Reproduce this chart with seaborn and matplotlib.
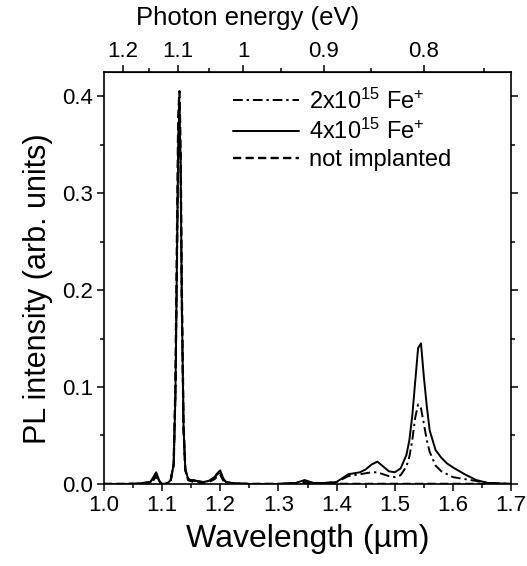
import numpy as np
import pandas as pd
import matplotlib
matplotlib.use("Agg")
import matplotlib.pyplot as plt
import seaborn as sns

# wavelength grid (um)
wavelength = [1.00, 1.02, 1.04, 1.06, 1.08, 1.085, 1.09, 1.095, 1.10, 1.105,
              1.11, 1.115, 1.12, 1.123, 1.126, 1.128, 1.130, 1.132, 1.134, 1.137,
              1.14, 1.145, 1.15, 1.155, 1.16, 1.17, 1.18, 1.19, 1.195, 1.20,
              1.205, 1.21, 1.22, 1.25, 1.30, 1.33, 1.345, 1.36, 1.38, 1.40,
              1.41, 1.42, 1.43, 1.44, 1.45, 1.46, 1.47, 1.48, 1.49, 1.50,
              1.51, 1.52, 1.525, 1.53, 1.535, 1.54, 1.545, 1.55, 1.555, 1.56,
              1.57, 1.58, 1.59, 1.60, 1.62, 1.64, 1.66, 1.70]

# 4x10^15 Fe+ (solid)
pl_4e15 = [0.0, 0.0, 0.0, 0.0005, 0.002, 0.007, 0.012, 0.004, -0.001, 0.0,
           0.001, 0.004, 0.02, 0.09, 0.25, 0.36, 0.39, 0.33, 0.19, 0.06,
           0.015, 0.005, 0.004, 0.004, 0.003, 0.002, 0.003, 0.007, 0.011, 0.014,
           0.006, 0.002, 0.001, 0.0, 0.0, 0.001, 0.004, 0.001, 0.001, 0.002,
           0.006, 0.010, 0.011, 0.012, 0.015, 0.020, 0.023, 0.018, 0.013, 0.012,
           0.016, 0.030, 0.045, 0.070, 0.105, 0.140, 0.145, 0.110, 0.080, 0.055,
           0.035, 0.027, 0.021, 0.017, 0.010, 0.004, 0.001, 0.0]

# 2x10^15 Fe+ (dash-dot)
pl_2e15 = [0.0, 0.0, 0.0, 0.0005, 0.002, 0.006, 0.010, 0.003, -0.001, 0.0,
           0.001, 0.004, 0.02, 0.09, 0.24, 0.35, 0.38, 0.32, 0.18, 0.055,
           0.014, 0.005, 0.004, 0.003, 0.003, 0.002, 0.003, 0.006, 0.010, 0.012,
           0.005, 0.002, 0.001, 0.0, 0.0, 0.001, 0.003, 0.001, 0.001, 0.002,
           0.005, 0.008, 0.009, 0.010, 0.011, 0.012, 0.012, 0.010, 0.008, 0.007,
           0.009, 0.018, 0.028, 0.045, 0.068, 0.082, 0.078, 0.062, 0.045, 0.033,
           0.019, 0.013, 0.010, 0.007, 0.005, 0.003, 0.001, 0.0]

# not implanted (dashed)
pl_ref = [0.0, 0.0, 0.0, 0.0, 0.001, 0.004, 0.008, 0.002, 0.0, 0.0,
          0.001, 0.004, 0.02, 0.10, 0.27, 0.38, 0.405, 0.34, 0.20, 0.06,
          0.015, 0.004, 0.003, 0.002, 0.002, 0.001, 0.002, 0.005, 0.008, 0.010,
          0.004, 0.001, 0.0, 0.0, 0.0, 0.0, 0.001, 0.0, 0.0, 0.0,
          0.0, 0.0, 0.0, 0.0, 0.0, 0.0, 0.0, 0.0, 0.0, 0.0,
          0.0, 0.0, 0.0, 0.0, 0.0, 0.0, 0.0, 0.0, 0.0, 0.0,
          0.0, 0.0, 0.0, 0.0, 0.0, 0.0, 0.0, 0.0]

energy_ticks = [1.2, 1.1, 1.0, 0.9, 0.8]
energy_labels = ["1.2", "1.1", "1", "0.9", "0.8"]
energy_minor = [1.15, 1.05, 0.95, 0.85, 0.75]

df = pd.DataFrame({"wl": wavelength, "s4": pl_4e15, "s2": pl_2e15, "ref": pl_ref})

sns.set_style("ticks")
plt.rcParams["font.family"] = ["Liberation Sans", "DejaVu Sans"]
plt.rcParams["mathtext.fontset"] = "custom"
plt.rcParams["mathtext.rm"] = "Liberation Sans"
plt.rcParams["mathtext.it"] = "Liberation Sans:italic"
for key in ["text.color", "axes.labelcolor", "xtick.color", "ytick.color", "axes.edgecolor"]:
    plt.rcParams[key] = "black"

fig = plt.figure(figsize=(5.27, 5.66), dpi=100)
ax = fig.add_axes([0.197, 0.145, 0.773, 0.728])

sns.lineplot(data=df, x="wl", y="s4", ax=ax, color="black", lw=1.4,
             linestyle="-", label=r"4x10$^{15}$ Fe$^{+}$")
sns.lineplot(data=df, x="wl", y="s2", ax=ax, color="black", lw=1.4,
             linestyle=(0, (5, 2, 1.2, 2)), label=r"2x10$^{15}$ Fe$^{+}$")
sns.lineplot(data=df, x="wl", y="ref", ax=ax, color="black", lw=1.7,
             linestyle=(0, (3.5, 1.8)), label="not implanted")

ax.set_xlim(1.0, 1.7)
ax.set_ylim(0.0, 0.425)
ax.set_xticks(np.round(np.arange(1.0, 1.71, 0.1), 2))
ax.set_xticks(np.round(np.arange(1.05, 1.7, 0.1), 2), minor=True)
ax.set_yticks([0.0, 0.1, 0.2, 0.3, 0.4])
ax.set_yticks([0.05, 0.15, 0.25, 0.35], minor=True)
ax.set_xticklabels([f"{v:.1f}" for v in np.arange(1.0, 1.71, 0.1)])
ax.set_yticklabels(["0.0", "0.1", "0.2", "0.3", "0.4"])
ax.tick_params(which="both", direction="out", right=True, top=False,
               labelsize=16, width=1.1, pad=3)
ax.tick_params(which="major", length=5)
ax.tick_params(which="minor", length=3)
for sp in ax.spines.values():
    sp.set_visible(True)
    sp.set_linewidth(1.2)

ax.set_xlabel("Wavelength (\u00b5m)", fontsize=23, labelpad=6)
ax.set_ylabel("PL intensity (arb. units)", fontsize=22)
ax.yaxis.set_label_coords(-0.125, 0.475)


def to_energy(x):
    x = np.asarray(x, dtype=float)
    with np.errstate(divide="ignore"):
        return 1.2398 / x


top = ax.secondary_xaxis("top", functions=(to_energy, to_energy))
top.set_xticks(energy_ticks)
top.set_xticklabels(energy_labels)
top.set_xticks(energy_minor, minor=True)
top.tick_params(which="both", direction="out", labelsize=16, width=1.1, pad=2)
top.tick_params(which="major", length=5)
top.tick_params(which="minor", length=3)
# the top title sits left of centre in the original
ax.text(0.354, 1.131, "Photon energy (eV)", transform=ax.transAxes,
        ha="center", va="center", fontsize=18.5)

h, l = ax.get_legend_handles_labels()
order = [1, 0, 2]
ax.legend([h[i] for i in order], [l[i] for i in order], loc="upper left",
          bbox_to_anchor=(0.318, 0.96), frameon=False, fontsize=17,
          handlelength=2.8, handletextpad=0.4, labelspacing=0.22,
          borderpad=0, borderaxespad=0)

fig.savefig("out.png", dpi=100)
